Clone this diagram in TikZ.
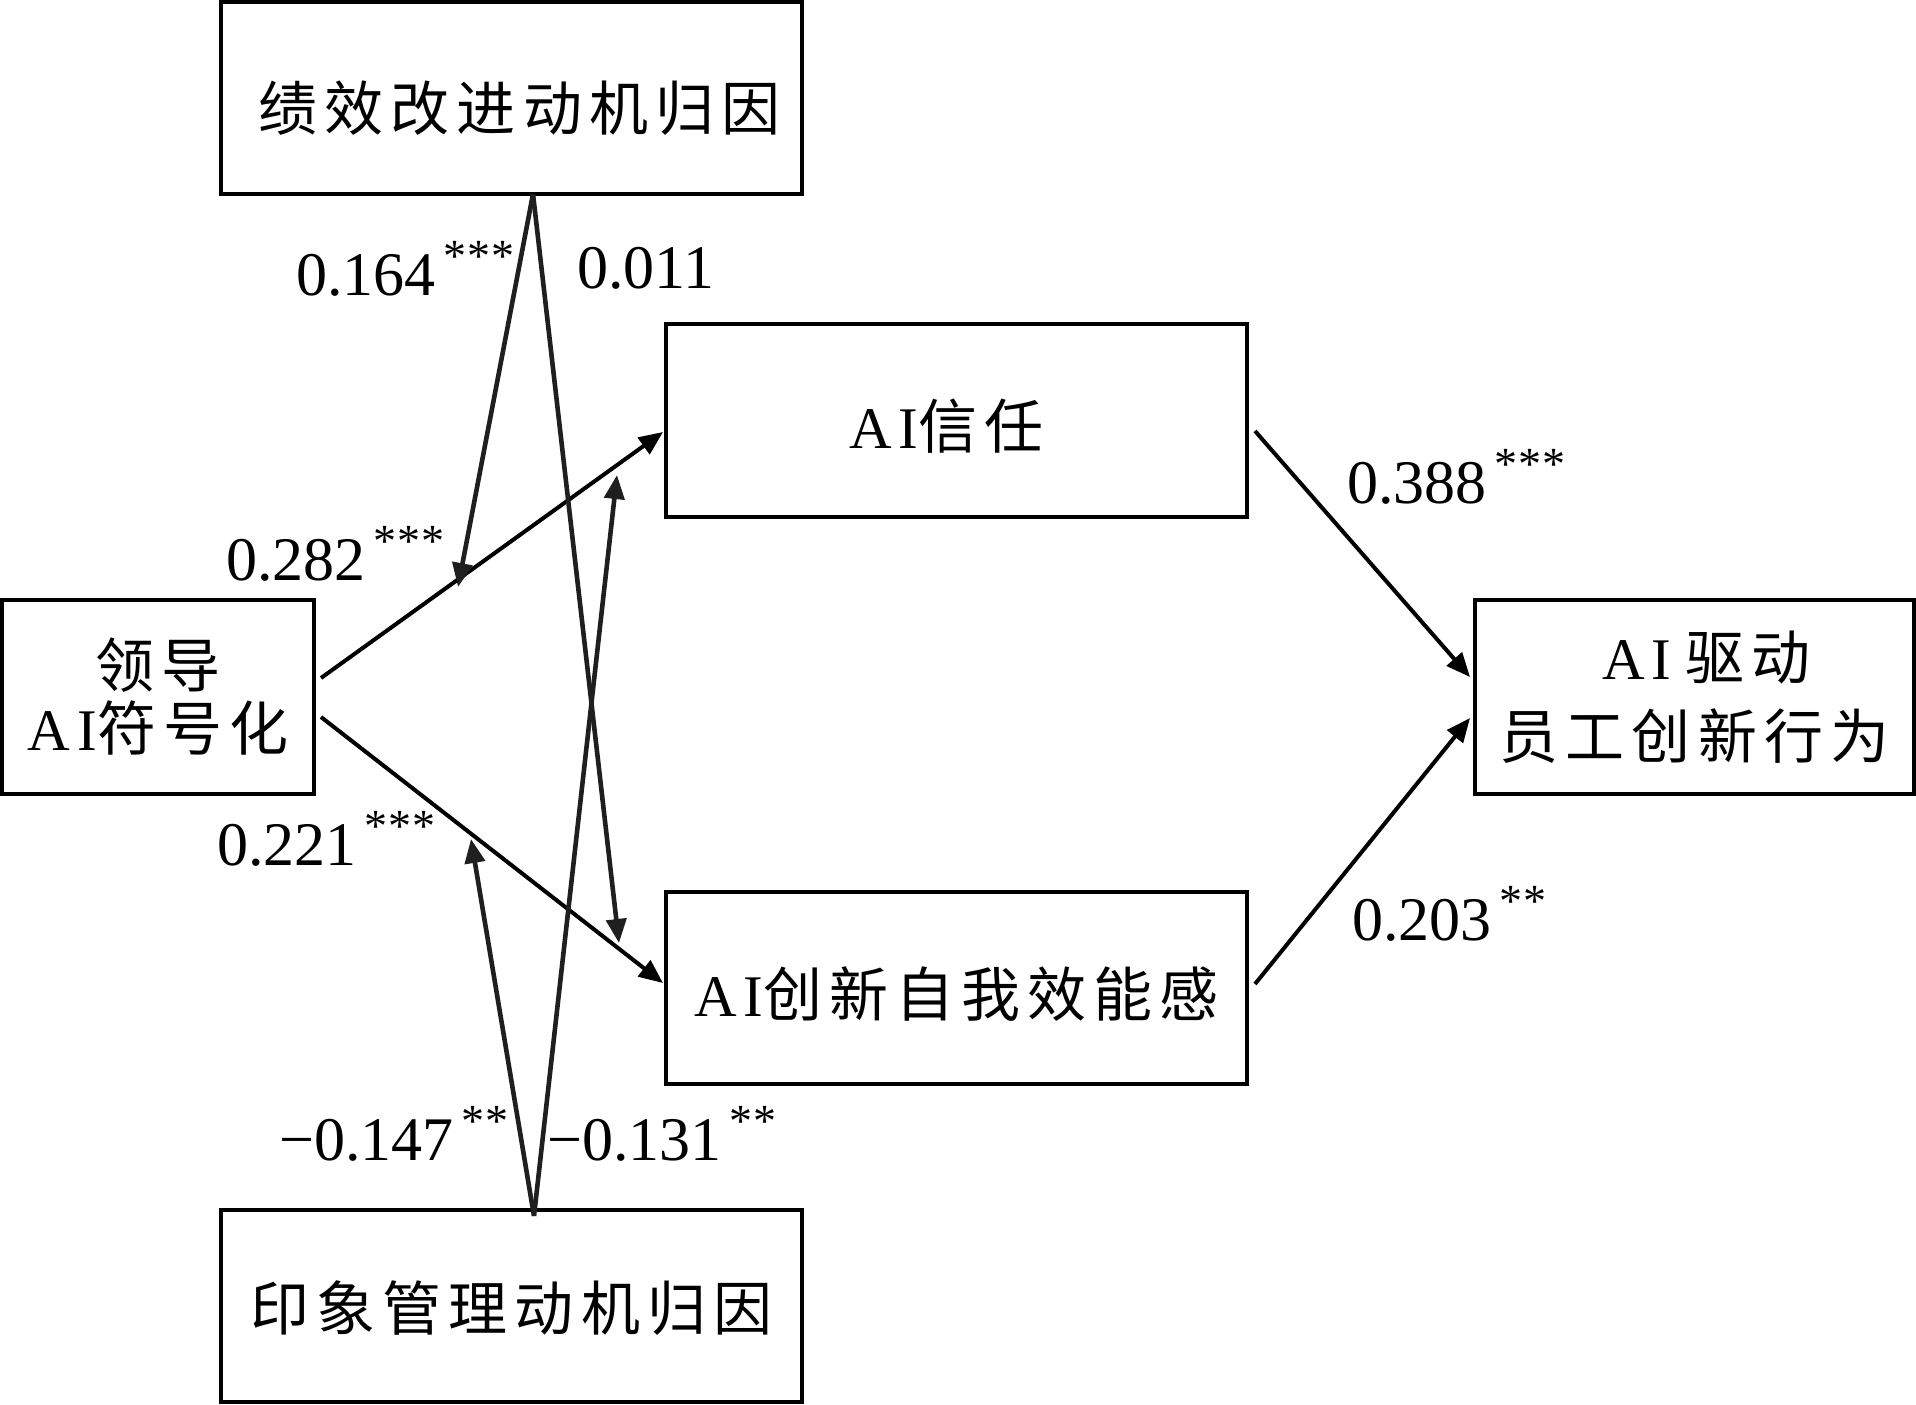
\documentclass[tikz,border=0pt]{standalone}
\usepackage{fontspec}
\setmainfont{Liberation Serif}
\newfontfamily\cjk[LetterSpace=12]{Noto Sans CJK SC}
\newfontfamily\lat[LetterSpace=12]{Liberation Serif}
\usetikzlibrary{arrows.meta,calc}
\newcommand{\boxfont}{\fontsize{29.5pt}{33.5pt}\selectfont}
\newcommand{\numfont}{\fontsize{31pt}{36pt}\selectfont}
\newcommand{\starfont}{\fontsize{23pt}{23pt}\selectfont}
\newcommand{\coef}[2]{#1\hspace{4pt}\raisebox{12pt}{\starfont\addfontfeature{LetterSpace=2}#2}}
\newcommand{\dropby}[2]{\raisebox{-#1}[\height][\depth]{#2}}
\begin{document}
\begin{tikzpicture}[x=0.5pt,y=-0.5pt,
  box/.style={draw=black,line width=2pt,inner sep=0pt,align=center,font=\boxfont},
  arr/.style={line width=2pt,-{Triangle[length=12pt,width=10pt]}},
  modarr/.style={line width=2.3pt,draw=black!88,-{Triangle[length=12pt,width=10pt]},fill=black!88},
  coefl/.style={anchor=base west,inner sep=0pt,font=\numfont}]
\useasboundingbox[fill=white] (0,0) rectangle (1916,1404);
% boxes
\node[box,minimum width=290.5pt,minimum height=96pt] (perf) at (511.5,98) {\dropby{5pt}{\hspace*{8pt}\cjk 绩效改进动机归因}};
\node[box,minimum width=290.5pt,minimum height=96.5pt] (trust) at (956.5,420.5) {\dropby{3pt}{{\lat AI}{\cjk 信任}\hspace*{10pt}}};
\node[box,minimum width=290.5pt,minimum height=96pt] (eff) at (956.5,988) {\dropby{3pt}{{\lat AI}{\cjk 创新自我效能感}}};
\node[box,minimum width=156pt,minimum height=97pt] (lead) at (158,697) {{\cjk 领导}\\[-2pt]{\lat AI}{\cjk 符号化}};
\node[box,minimum width=219.5pt,minimum height=97pt] (outc) at (1694.5,697) {\hspace*{12pt}{\lat AI}\hspace{7pt}{\cjk 驱动}\\[6pt]{\cjk 员工创新行为}};
\node[box,minimum width=290.5pt,minimum height=96pt] (impr) at (511.5,1306) {\dropby{1pt}{\cjk 印象管理动机归因}};
% main paths
\draw[arr] ([shift={(5,-19)}]lead.east) -- ([shift={(-1,11.5)}]trust.west);
\draw[arr] ([shift={(5,20)}]lead.east) -- ([shift={(-1,-5)}]eff.west);
\draw[arr] ([shift={(6,10.5)}]trust.east) -- ([shift={(-3,-20)}]outc.west);
\draw[arr] ([shift={(6,-4)}]eff.east) -- ([shift={(-3,21)}]outc.west);
% moderator apexes and tips
\coordinate (pa) at ([shift={(21.5,-2)}]perf.south);
\coordinate (ia) at ([shift={(22.5,8)}]impr.north);
\coordinate (t1) at (458,587);
\coordinate (t2) at (619,943);
\coordinate (t3) at (471,839);
\coordinate (t4) at (617,475);
\draw[modarr] (pa) -- (t1);
\draw[modarr] (pa) -- (t2);
\draw[modarr] (ia) -- (t3);
\draw[modarr] (ia) -- (t4);
% coefficients
\node[coefl] (c164) at (296,295) {\coef{0.164}{***}};
\node[coefl] (c011) at (577,288) {0.011};
\node[coefl] (c282) at (226,580) {\coef{0.282}{***}};
\node[coefl] (c221) at (217,865) {\coef{0.221}{***}};
\node[coefl] (c147) at (279,1160) {\coef{−0.147}{**}};
\node[coefl] (c131) at (547,1160) {\coef{−0.131}{**}};
\node[coefl] (c388) at (1347,503) {\coef{0.388}{***}};
\node[coefl] (c203) at (1352,940) {\coef{0.203}{**}};
\end{tikzpicture}
\end{document}
